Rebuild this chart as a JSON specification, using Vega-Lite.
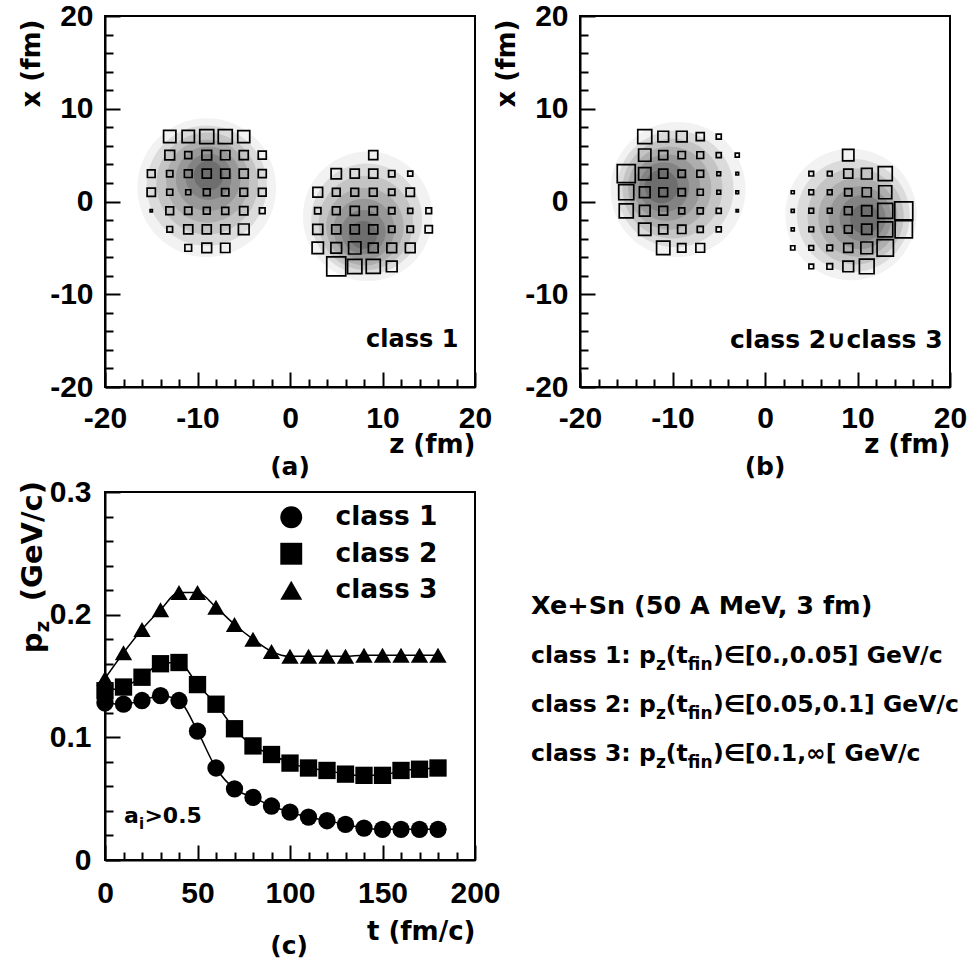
{
  "$schema": "https://vega.github.io/schema/vega-lite/v6.json",
  "background": "white",
  "padding": {"left": 17, "top": 0, "right": 0, "bottom": 0},
  "config": {
    "view": {"stroke": "black", "strokeWidth": 2},
    "axis": {
      "domainColor": "black", "domainWidth": 2, "tickColor": "black", "tickWidth": 2,
      "labelFont": "Liberation Sans", "labelFontWeight": "bold", "labelFontSize": 30, "labelColor": "black",
      "labelFlush": false, "labelOverlap": false, "labelBound": false, "grid": false,
      "titleFont": "DejaVu Sans", "titleFontWeight": "bold", "titleFontSize": 26, "titleColor": "black"
    }
  },
  "datasets": {
    "cells": [
      {"p":"a","z":-13,"x":7,"w":15.1},{"p":"a","z":-11,"x":7,"w":15.1},{"p":"a","z":-9,"x":7,"w":19.6},{"p":"a","z":-7,"x":7,"w":19.6},{"p":"a","z":-5,"x":7,"w":14.4},
      {"p":"a","z":-13,"x":5,"w":9.4},{"p":"a","z":-11,"x":5,"w":4.9},{"p":"a","z":-9,"x":5,"w":9.4},{"p":"a","z":-7,"x":5,"w":8.6},{"p":"a","z":-5,"x":5,"w":8.1},{"p":"a","z":-3,"x":5,"w":6.4},
      {"p":"a","z":-15,"x":3,"w":5.9},{"p":"a","z":-13,"x":3,"w":4.0},{"p":"a","z":-11,"x":3,"w":5.9},{"p":"a","z":-9,"x":3,"w":8.1},{"p":"a","z":-7,"x":3,"w":8.1},{"p":"a","z":-5,"x":3,"w":8.1},{"p":"a","z":-3,"x":3,"w":6.4},
      {"p":"a","z":-15,"x":1,"w":6.9},{"p":"a","z":-13,"x":1,"w":3.6},{"p":"a","z":-11,"x":1,"w":2.5},{"p":"a","z":-9,"x":1,"w":4.5},{"p":"a","z":-7,"x":1,"w":5.3},{"p":"a","z":-5,"x":1,"w":5.9},{"p":"a","z":-3,"x":1,"w":5.9},
      {"p":"a","z":-15,"x":-1,"w":0.5},{"p":"a","z":-13,"x":-1,"w":5.9},{"p":"a","z":-11,"x":-1,"w":5.3},{"p":"a","z":-9,"x":-1,"w":4.5},{"p":"a","z":-7,"x":-1,"w":4.9},{"p":"a","z":-5,"x":-1,"w":6.9},{"p":"a","z":-3,"x":-1,"w":3.2},
      {"p":"a","z":-13,"x":-3,"w":3.2},{"p":"a","z":-11,"x":-3,"w":8.1},{"p":"a","z":-9,"x":-3,"w":8.1},{"p":"a","z":-7,"x":-3,"w":8.1},{"p":"a","z":-5,"x":-3,"w":11.4},
      {"p":"a","z":-11,"x":-5,"w":4.5},{"p":"a","z":-9,"x":-5,"w":9.4},{"p":"a","z":-7,"x":-5,"w":8.6},
      {"p":"a","z":9,"x":5,"w":8.1},
      {"p":"a","z":5,"x":3,"w":10.6},{"p":"a","z":7,"x":3,"w":8.1},{"p":"a","z":9,"x":3,"w":8.1},{"p":"a","z":11,"x":3,"w":4.0},{"p":"a","z":13,"x":3,"w":2.5},
      {"p":"a","z":3,"x":1,"w":9.4},{"p":"a","z":5,"x":1,"w":5.9},{"p":"a","z":7,"x":1,"w":5.9},{"p":"a","z":9,"x":1,"w":5.9},{"p":"a","z":11,"x":1,"w":4.0},{"p":"a","z":13,"x":1,"w":6.9},
      {"p":"a","z":3,"x":-1,"w":4.0},{"p":"a","z":5,"x":-1,"w":5.9},{"p":"a","z":7,"x":-1,"w":8.1},{"p":"a","z":9,"x":-1,"w":6.9},{"p":"a","z":11,"x":-1,"w":4.0},{"p":"a","z":13,"x":-1,"w":2.5},{"p":"a","z":15,"x":-1,"w":3.2},
      {"p":"a","z":3,"x":-3,"w":10.0},{"p":"a","z":5,"x":-3,"w":8.1},{"p":"a","z":7,"x":-3,"w":8.1},{"p":"a","z":9,"x":-3,"w":8.1},{"p":"a","z":11,"x":-3,"w":4.0},{"p":"a","z":13,"x":-3,"w":4.0},{"p":"a","z":15,"x":-3,"w":5.3},
      {"p":"a","z":3,"x":-5,"w":12.8},{"p":"a","z":5,"x":-5,"w":11.4},{"p":"a","z":7,"x":-5,"w":15.1},{"p":"a","z":9,"x":-5,"w":9.4},{"p":"a","z":11,"x":-5,"w":9.4},{"p":"a","z":13,"x":-5,"w":9.4},
      {"p":"a","z":5,"x":-7,"w":36.1},{"p":"a","z":7,"x":-7,"w":20.4},{"p":"a","z":9,"x":-7,"w":19.6},{"p":"a","z":11,"x":-7,"w":11.4},

      {"p":"b","z":-13,"x":7,"w":19.6},{"p":"b","z":-11,"x":7,"w":11.4},{"p":"b","z":-9,"x":7,"w":11.4},{"p":"b","z":-7,"x":7,"w":6.4},{"p":"b","z":-5,"x":7,"w":2.5},
      {"p":"b","z":-13,"x":5,"w":15.1},{"p":"b","z":-11,"x":5,"w":8.1},{"p":"b","z":-9,"x":5,"w":5.3},{"p":"b","z":-7,"x":5,"w":4.5},{"p":"b","z":-5,"x":5,"w":2.5},{"p":"b","z":-3,"x":5,"w":1.6},
      {"p":"b","z":-15,"x":3,"w":32.4},{"p":"b","z":-13,"x":3,"w":15.1},{"p":"b","z":-11,"x":3,"w":8.1},{"p":"b","z":-9,"x":3,"w":5.3},{"p":"b","z":-7,"x":3,"w":4.5},{"p":"b","z":-5,"x":3,"w":1.4},{"p":"b","z":-3,"x":3,"w":0.7},
      {"p":"b","z":-15,"x":1,"w":22.5},{"p":"b","z":-13,"x":1,"w":11.4},{"p":"b","z":-11,"x":1,"w":7.6},{"p":"b","z":-9,"x":1,"w":5.3},{"p":"b","z":-7,"x":1,"w":3.6},{"p":"b","z":-5,"x":1,"w":1.4},{"p":"b","z":-3,"x":1,"w":0.7},
      {"p":"b","z":-15,"x":-1,"w":19.6},{"p":"b","z":-13,"x":-1,"w":11.4},{"p":"b","z":-11,"x":-1,"w":7.6},{"p":"b","z":-9,"x":-1,"w":3.6},{"p":"b","z":-7,"x":-1,"w":3.6},{"p":"b","z":-5,"x":-1,"w":2.5},{"p":"b","z":-3,"x":-1,"w":0.5},
      {"p":"b","z":-13,"x":-3,"w":15.1},{"p":"b","z":-11,"x":-3,"w":8.1},{"p":"b","z":-9,"x":-3,"w":6.9},{"p":"b","z":-7,"x":-3,"w":3.6},{"p":"b","z":-5,"x":-3,"w":2.5},
      {"p":"b","z":-11,"x":-5,"w":17.7},{"p":"b","z":-9,"x":-5,"w":6.9},{"p":"b","z":-7,"x":-5,"w":7.6},
      {"p":"b","z":9,"x":5,"w":12.8},
      {"p":"b","z":5,"x":3,"w":2.2},{"p":"b","z":7,"x":3,"w":2.2},{"p":"b","z":9,"x":3,"w":8.1},{"p":"b","z":11,"x":3,"w":11.4},{"p":"b","z":13,"x":3,"w":19.6},
      {"p":"b","z":3,"x":1,"w":0.9},{"p":"b","z":5,"x":1,"w":2.2},{"p":"b","z":7,"x":1,"w":2.2},{"p":"b","z":9,"x":1,"w":5.3},{"p":"b","z":11,"x":1,"w":8.1},{"p":"b","z":13,"x":1,"w":16.9},
      {"p":"b","z":3,"x":-1,"w":0.9},{"p":"b","z":5,"x":-1,"w":2.2},{"p":"b","z":7,"x":-1,"w":2.2},{"p":"b","z":9,"x":-1,"w":5.9},{"p":"b","z":11,"x":-1,"w":10.6},{"p":"b","z":13,"x":-1,"w":22.5},{"p":"b","z":15,"x":-1,"w":32.4},
      {"p":"b","z":3,"x":-3,"w":0.9},{"p":"b","z":5,"x":-3,"w":2.2},{"p":"b","z":7,"x":-3,"w":3.2},{"p":"b","z":9,"x":-3,"w":5.9},{"p":"b","z":11,"x":-3,"w":10.6},{"p":"b","z":13,"x":-3,"w":22.5},{"p":"b","z":15,"x":-3,"w":29.9},
      {"p":"b","z":3,"x":-5,"w":1.8},{"p":"b","z":5,"x":-5,"w":2.2},{"p":"b","z":7,"x":-5,"w":3.2},{"p":"b","z":9,"x":-5,"w":8.1},{"p":"b","z":11,"x":-5,"w":13.7},{"p":"b","z":13,"x":-5,"w":26.6},
      {"p":"b","z":5,"x":-7,"w":2.2},{"p":"b","z":7,"x":-7,"w":3.2},{"p":"b","z":9,"x":-7,"w":11.4},{"p":"b","z":11,"x":-7,"w":21.6}
    ],
    "density": [
      {"p":"a","lv":1,"z":-9.0,"x":1.5,"r":7.5},{"p":"a","lv":2,"z":-9.0,"x":1.7,"r":6.5},{"p":"a","lv":3,"z":-8.95,"x":1.95,"r":5.5},{"p":"a","lv":4,"z":-8.9,"x":2.2,"r":4.5},{"p":"a","lv":5,"z":-8.85,"x":2.45,"r":3.5},{"p":"a","lv":6,"z":-8.8,"x":2.65,"r":2.5},{"p":"a","lv":7,"z":-8.8,"x":2.8,"r":1.6},
      {"p":"a","lv":1,"z":8.4,"x":-1.6,"r":7.0},{"p":"a","lv":2,"z":8.3,"x":-1.9,"r":6.0},{"p":"a","lv":3,"z":8.2,"x":-2.3,"r":5.1},{"p":"a","lv":4,"z":8.1,"x":-2.7,"r":4.2},{"p":"a","lv":5,"z":8.0,"x":-3.0,"r":3.3},{"p":"a","lv":6,"z":7.95,"x":-3.3,"r":2.4},{"p":"a","lv":7,"z":7.9,"x":-3.6,"r":1.5},
      {"p":"b","lv":1,"z":-9.4,"x":1.3,"r":7.3},{"p":"b","lv":2,"z":-9.7,"x":1.35,"r":6.3},{"p":"b","lv":3,"z":-10.0,"x":1.4,"r":5.4},{"p":"b","lv":4,"z":-10.3,"x":1.45,"r":4.5},{"p":"b","lv":5,"z":-10.6,"x":1.5,"r":3.6},{"p":"b","lv":6,"z":-10.9,"x":1.55,"r":2.7},{"p":"b","lv":7,"z":-11.2,"x":1.6,"r":1.8},
      {"p":"b","lv":1,"z":9.3,"x":-1.4,"r":7.1},{"p":"b","lv":2,"z":9.55,"x":-1.5,"r":6.1},{"p":"b","lv":3,"z":9.8,"x":-1.6,"r":5.2},{"p":"b","lv":4,"z":10.05,"x":-1.7,"r":4.3},{"p":"b","lv":5,"z":10.3,"x":-1.75,"r":3.4},{"p":"b","lv":6,"z":10.55,"x":-1.8,"r":2.5},{"p":"b","lv":7,"z":10.8,"x":-1.9,"r":1.6}
    ],
    "pz": [
      {"cls":"class 1","t":0,"v":0.128},{"cls":"class 1","t":10,"v":0.127},{"cls":"class 1","t":20,"v":0.130},{"cls":"class 1","t":30,"v":0.134},{"cls":"class 1","t":40,"v":0.130},{"cls":"class 1","t":50,"v":0.105},{"cls":"class 1","t":60,"v":0.075},{"cls":"class 1","t":70,"v":0.058},{"cls":"class 1","t":80,"v":0.051},{"cls":"class 1","t":90,"v":0.044},{"cls":"class 1","t":100,"v":0.039},{"cls":"class 1","t":110,"v":0.035},{"cls":"class 1","t":120,"v":0.032},{"cls":"class 1","t":130,"v":0.029},{"cls":"class 1","t":140,"v":0.026},{"cls":"class 1","t":150,"v":0.025},{"cls":"class 1","t":160,"v":0.025},{"cls":"class 1","t":170,"v":0.025},{"cls":"class 1","t":180,"v":0.025},
      {"cls":"class 2","t":0,"v":0.138},{"cls":"class 2","t":10,"v":0.141},{"cls":"class 2","t":20,"v":0.149},{"cls":"class 2","t":30,"v":0.160},{"cls":"class 2","t":40,"v":0.161},{"cls":"class 2","t":50,"v":0.143},{"cls":"class 2","t":60,"v":0.127},{"cls":"class 2","t":70,"v":0.107},{"cls":"class 2","t":80,"v":0.093},{"cls":"class 2","t":90,"v":0.086},{"cls":"class 2","t":100,"v":0.079},{"cls":"class 2","t":110,"v":0.075},{"cls":"class 2","t":120,"v":0.073},{"cls":"class 2","t":130,"v":0.070},{"cls":"class 2","t":140,"v":0.069},{"cls":"class 2","t":150,"v":0.069},{"cls":"class 2","t":160,"v":0.073},{"cls":"class 2","t":170,"v":0.074},{"cls":"class 2","t":180,"v":0.075},
      {"cls":"class 3","t":0,"v":0.148},{"cls":"class 3","t":10,"v":0.169},{"cls":"class 3","t":20,"v":0.188},{"cls":"class 3","t":30,"v":0.204},{"cls":"class 3","t":40,"v":0.218},{"cls":"class 3","t":50,"v":0.218},{"cls":"class 3","t":60,"v":0.206},{"cls":"class 3","t":70,"v":0.192},{"cls":"class 3","t":80,"v":0.180},{"cls":"class 3","t":90,"v":0.170},{"cls":"class 3","t":100,"v":0.166},{"cls":"class 3","t":110,"v":0.166},{"cls":"class 3","t":120,"v":0.166},{"cls":"class 3","t":130,"v":0.166},{"cls":"class 3","t":140,"v":0.167},{"cls":"class 3","t":150,"v":0.167},{"cls":"class 3","t":160,"v":0.167},{"cls":"class 3","t":170,"v":0.167},{"cls":"class 3","t":180,"v":0.167}
    ],
    "notes": [
      {"line":1,"head":"class 1: p","tail":")∈[0.,0.05] GeV/c"},
      {"line":2,"head":"class 2: p","tail":")∈[0.05,0.1] GeV/c"},
      {"line":3,"head":"class 3: p","tail":")∈[0.1,∞[ GeV/c"}
    ]
  },
  "concat": [
    {
      "width": 370, "height": 371,
      "encoding": {
        "x": {"field": "z", "type": "quantitative", "scale": {"domain": [-20, 20], "nice": false, "zero": false},
          "axis": {"values": [-20,-18,-16,-14,-12,-10,-8,-6,-4,-2,0,2,4,6,8,10,12,14,16,18,20],
            "labelExpr": "datum.value % 10 === 0 ? '' + datum.value : ''",
            "labelFont": "Liberation Sans", "labelFontWeight": "bold", "labelFontSize": 30, "labelColor": "black",
            "tickSize": {"condition": {"test": "datum.value % 10 === 0", "value": -15}, "value": -8},
            "labelPadding": 31, "title": "z (fm)", "titleFont": "DejaVu Sans", "titleFontWeight": "bold", "titleFontSize": 26,
            "titleAnchor": "end", "titleAlign": "right", "titleBaseline": "middle", "titleX": 370, "titleY": 57}},
        "y": {"field": "x", "type": "quantitative", "scale": {"domain": [-20, 20], "nice": false, "zero": false},
          "axis": {"values": [-20,-18,-16,-14,-12,-10,-8,-6,-4,-2,0,2,4,6,8,10,12,14,16,18,20],
            "labelExpr": "datum.value % 10 === 0 ? '' + datum.value : ''",
            "labelFont": "Liberation Sans", "labelFontWeight": "bold", "labelFontSize": 30, "labelColor": "black",
            "tickSize": {"condition": {"test": "datum.value % 10 === 0", "value": -15}, "value": -8},
            "labelPadding": 27, "title": "x (fm)", "titleFont": "DejaVu Sans", "titleFontWeight": "bold", "titleFontSize": 26,
            "titleAnchor": "end", "titleAngle": 270, "titleAlign": "right", "titleBaseline": "alphabetic", "titleX": -66, "titleY": 3}}
      },
      "layer": [
        {"data": {"name": "density"}, "transform": [{"filter": "datum.p === 'a'"}],
          "mark": {"type": "circle", "opacity": 1},
          "encoding": {
            "size": {"field": "r", "type": "quantitative", "scale": {"type": "pow", "exponent": 2, "domain": [0, 10], "range": [0, 34225]}, "legend": null},
            "color": {"field": "lv", "type": "quantitative", "scale": {"domain": [1, 7], "range": ["#f2f2f2", "#6e6e6e"]}, "legend": null},
            "order": {"field": "lv"}}},
        {"data": {"name": "cells"}, "transform": [{"filter": "datum.p === 'a'"}],
          "mark": {"type": "square", "filled": false, "stroke": "black", "strokeWidth": 1.7, "opacity": 1},
          "encoding": {"size": {"field": "w", "type": "quantitative", "scale": {"domain": [0, 40], "range": [0, 400]}, "legend": null}}},
        {"data": {"values": [{"z": 18.2, "x": -14.9, "label": "class 1"}]},
          "mark": {"type": "text", "align": "right", "baseline": "middle", "font": "DejaVu Sans", "fontWeight": "bold", "fontSize": 24, "color": "black"},
          "encoding": {"text": {"field": "label"}}},
        {"data": {"values": [{"z": 0, "x": -28.6, "label": "(a)"}]},
          "mark": {"type": "text", "align": "center", "baseline": "middle", "font": "DejaVu Sans", "fontWeight": "bold", "fontSize": 25, "color": "black"},
          "encoding": {"text": {"field": "label"}}}
      ],
      "resolve": {"scale": {"size": "independent", "color": "independent"}}
    },
    {
      "width": 370, "height": 371,
      "encoding": {
        "x": {"field": "z", "type": "quantitative", "scale": {"domain": [-20, 20], "nice": false, "zero": false},
          "axis": {"values": [-20,-18,-16,-14,-12,-10,-8,-6,-4,-2,0,2,4,6,8,10,12,14,16,18,20],
            "labelExpr": "datum.value % 10 === 0 ? '' + datum.value : ''",
            "labelFont": "Liberation Sans", "labelFontWeight": "bold", "labelFontSize": 30, "labelColor": "black",
            "tickSize": {"condition": {"test": "datum.value % 10 === 0", "value": -15}, "value": -8},
            "labelPadding": 31, "title": "z (fm)", "titleFont": "DejaVu Sans", "titleFontWeight": "bold", "titleFontSize": 26,
            "titleAnchor": "end", "titleAlign": "right", "titleBaseline": "middle", "titleX": 370, "titleY": 57}},
        "y": {"field": "x", "type": "quantitative", "scale": {"domain": [-20, 20], "nice": false, "zero": false},
          "axis": {"values": [-20,-18,-16,-14,-12,-10,-8,-6,-4,-2,0,2,4,6,8,10,12,14,16,18,20],
            "labelExpr": "datum.value % 10 === 0 ? '' + datum.value : ''",
            "labelFont": "Liberation Sans", "labelFontWeight": "bold", "labelFontSize": 30, "labelColor": "black",
            "tickSize": {"condition": {"test": "datum.value % 10 === 0", "value": -15}, "value": -8},
            "labelPadding": 27, "title": "x (fm)", "titleFont": "DejaVu Sans", "titleFontWeight": "bold", "titleFontSize": 26,
            "titleAnchor": "end", "titleAngle": 270, "titleAlign": "right", "titleBaseline": "alphabetic", "titleX": -66, "titleY": 3}}
      },
      "layer": [
        {"data": {"name": "density"}, "transform": [{"filter": "datum.p === 'b'"}],
          "mark": {"type": "circle", "opacity": 1},
          "encoding": {
            "size": {"field": "r", "type": "quantitative", "scale": {"type": "pow", "exponent": 2, "domain": [0, 10], "range": [0, 34225]}, "legend": null},
            "color": {"field": "lv", "type": "quantitative", "scale": {"domain": [1, 7], "range": ["#f2f2f2", "#6e6e6e"]}, "legend": null},
            "order": {"field": "lv"}}},
        {"data": {"name": "cells"}, "transform": [{"filter": "datum.p === 'b'"}],
          "mark": {"type": "square", "filled": false, "stroke": "black", "strokeWidth": 1.7, "opacity": 1},
          "encoding": {"size": {"field": "w", "type": "quantitative", "scale": {"domain": [0, 40], "range": [0, 400]}, "legend": null}}},
        {"data": {"values": [{"z": 19.2, "x": -14.9, "label": "class 2∪class 3"}]},
          "mark": {"type": "text", "align": "right", "baseline": "middle", "font": "DejaVu Sans", "fontWeight": "bold", "fontSize": 25, "color": "black"},
          "encoding": {"text": {"field": "label"}}},
        {"data": {"values": [{"z": 0, "x": -28.6, "label": "(b)"}]},
          "mark": {"type": "text", "align": "center", "baseline": "middle", "font": "DejaVu Sans", "fontWeight": "bold", "fontSize": 25, "color": "black"},
          "encoding": {"text": {"field": "label"}}}
      ],
      "resolve": {"scale": {"size": "independent", "color": "independent"}}
    },
    {
      "width": 370, "height": 368,
      "encoding": {
        "x": {"field": "t", "type": "quantitative", "scale": {"domain": [0, 200], "nice": false, "zero": false},
          "axis": {"values": [0,10,20,30,40,50,60,70,80,90,100,110,120,130,140,150,160,170,180,190,200],
            "labelExpr": "datum.value % 50 === 0 ? '' + datum.value : ''",
            "labelFont": "Liberation Sans", "labelFontWeight": "bold", "labelFontSize": 30, "labelColor": "black",
            "tickSize": {"condition": {"test": "datum.value % 50 === 0", "value": -15}, "value": -8},
            "labelPadding": 33, "title": "t (fm/c)", "titleFont": "DejaVu Sans", "titleFontWeight": "bold", "titleFontSize": 26,
            "titleAnchor": "end", "titleAlign": "right", "titleBaseline": "middle", "titleX": 370, "titleY": 71}},
        "y": {"field": "v", "type": "quantitative", "scale": {"domain": [0, 0.3], "nice": false, "zero": false},
          "axis": {"values": [0,0.02,0.04,0.06,0.08,0.1,0.12,0.14,0.16,0.18,0.2,0.22,0.24,0.26,0.28,0.3],
            "labelExpr": "abs(datum.value * 10 - round(datum.value * 10)) < 0.000001 ? '' + round(datum.value * 10) / 10 : ''",
            "labelFont": "Liberation Sans", "labelFontWeight": "bold", "labelFontSize": 30, "labelColor": "black",
            "tickSize": {"condition": {"test": "abs(datum.value * 10 - round(datum.value * 10)) < 0.000001", "value": -15}, "value": -8},
            "labelPadding": 29, "title": null}}
      },
      "layer": [
        {"data": {"name": "pz"},
          "mark": {"type": "line", "interpolate": "monotone", "color": "black", "strokeWidth": 1.5},
          "encoding": {"detail": {"field": "cls"}}},
        {"data": {"name": "pz"},
          "mark": {"type": "point", "filled": true, "color": "black", "size": 300, "opacity": 1},
          "encoding": {
            "shape": {"field": "cls", "type": "nominal",
              "scale": {"domain": ["class 1", "class 2", "class 3"], "range": ["circle", "square", "triangle-up"]},
              "legend": {"title": null, "orient": "none", "legendX": 173, "legendY": 12, "symbolSize": 480,
                "labelFont": "DejaVu Sans", "labelFontWeight": "bold", "labelFontSize": 26.5, "labelColor": "black",
                "labelOffset": 31, "rowPadding": 9.5, "padding": 0,
                "symbolFillColor": "black", "symbolStrokeColor": "black", "symbolStrokeWidth": 0, "symbolOpacity": 1}}}},
        {"data": {"values": [{"t": 10.27, "v": 0.0302, "s": "a"}, {"t": 21.3, "v": 0.0302, "s": ">0.5"}]},
          "mark": {"type": "text", "align": "left", "baseline": "alphabetic", "font": "DejaVu Sans", "fontWeight": "bold", "fontSize": 22, "color": "black"},
          "encoding": {"text": {"field": "s"}}},
        {"data": {"values": [{"t": 18.4, "v": 0.0253, "s": "i"}]},
          "mark": {"type": "text", "align": "left", "baseline": "alphabetic", "font": "DejaVu Sans", "fontWeight": "bold", "fontSize": 15, "color": "black"},
          "encoding": {"text": {"field": "s"}}},
        {"data": {"values": [{"t": -34.05, "v": 0.309, "s": "(GeV/c)"}, {"t": -34.05, "v": 0.1854, "s": "p"}]},
          "mark": {"type": "text", "angle": 270, "align": "right", "baseline": "alphabetic", "font": "DejaVu Sans", "fontWeight": "bold", "fontSize": 29, "color": "black"},
          "encoding": {"text": {"field": "s"}}},
        {"data": {"values": [{"t": -30.3, "v": 0.1949, "s": "z"}]},
          "mark": {"type": "text", "angle": 270, "align": "right", "baseline": "alphabetic", "font": "DejaVu Sans", "fontWeight": "bold", "fontSize": 20, "color": "black"},
          "encoding": {"text": {"field": "s"}}},
        {"data": {"values": [{"t": 99.5, "v": -0.0701, "s": "(c)"}]},
          "mark": {"type": "text", "align": "center", "baseline": "middle", "font": "DejaVu Sans", "fontWeight": "bold", "fontSize": 25, "color": "black"},
          "encoding": {"text": {"field": "s"}}}
      ]
    },
    {
      "width": 370, "height": 368,
      "view": {"stroke": null},
      "data": {"name": "notes"},
      "encoding": {
        "y": {"field": "line", "type": "quantitative", "scale": {"domain": [0, 3], "range": [122, 269]}, "axis": null}
      },
      "layer": [
        {"data": {"values": [{"line": 0, "s": "Xe+Sn (50 A MeV, 3 fm)"}]},
          "mark": {"type": "text", "align": "left", "baseline": "alphabetic", "font": "DejaVu Sans", "fontWeight": "bold", "fontSize": 25.5, "color": "black"},
          "encoding": {"x": {"datum": 0, "scale": {"domain": [49, 419]}, "axis": null}, "text": {"field": "s"}}},
        {"mark": {"type": "text", "align": "left", "baseline": "alphabetic", "font": "DejaVu Sans", "fontWeight": "bold", "fontSize": 23.5, "color": "black"},
          "encoding": {"x": {"datum": 0, "scale": {"domain": [49, 419]}, "axis": null}, "text": {"field": "head"}}},
        {"mark": {"type": "text", "text": "z", "align": "left", "baseline": "alphabetic", "font": "DejaVu Sans", "fontWeight": "bold", "fontSize": 17, "dy": 7, "color": "black"},
          "encoding": {"x": {"datum": 125, "scale": {"domain": [49, 419]}, "axis": null}}},
        {"mark": {"type": "text", "text": "(t", "align": "left", "baseline": "alphabetic", "font": "DejaVu Sans", "fontWeight": "bold", "fontSize": 23.5, "color": "black"},
          "encoding": {"x": {"datum": 134.8, "scale": {"domain": [49, 419]}, "axis": null}}},
        {"mark": {"type": "text", "text": "fin", "align": "left", "baseline": "alphabetic", "font": "DejaVu Sans", "fontWeight": "bold", "fontSize": 17, "dy": 7, "color": "black"},
          "encoding": {"x": {"datum": 156.8, "scale": {"domain": [49, 419]}, "axis": null}}},
        {"mark": {"type": "text", "align": "left", "baseline": "alphabetic", "font": "DejaVu Sans", "fontWeight": "bold", "fontSize": 23.5, "color": "black"},
          "encoding": {"x": {"datum": 182, "scale": {"domain": [49, 419]}, "axis": null}, "text": {"field": "tail"}}}
      ]
    }
  ],
  "columns": 2,
  "spacing": {"row": 105, "column": 105},
  "bounds": "flush",
  "resolve": {"legend": {"shape": "independent"}}
}
